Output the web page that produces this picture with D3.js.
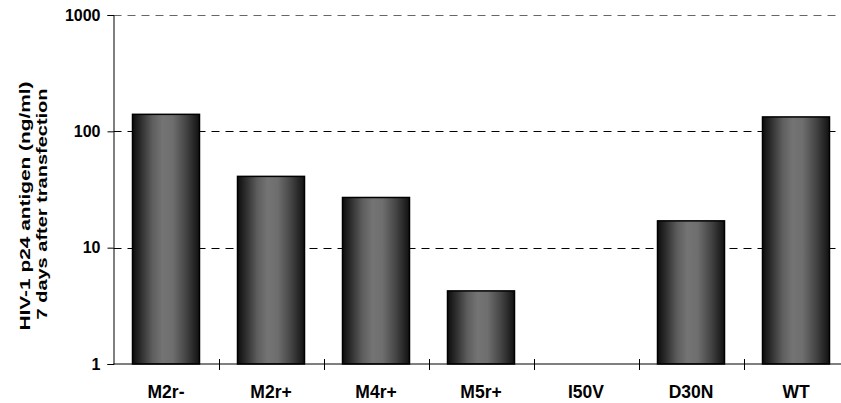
<!DOCTYPE html>
<html>
<head>
<meta charset="utf-8">
<script src="https://cdn.jsdelivr.net/npm/d3@7"></script>
<style>
  body { margin: 0; background: #fff; }
  svg { display: block; font-family: Arial, "Liberation Sans", sans-serif; }
</style>
</head>
<body>
<svg id="chart" width="841" height="403"></svg>
<script>
const categories = ['M2r-', 'M2r+', 'M4r+', 'M5r+', 'I50V', 'D30N', 'WT']
// p24 antigen in ng/ml, I50V had nothing measurable
const p24 = [140, 41, 27, 4.25, null, 17, 133]
const yTicks = [1, 10, 100, 1000]

const svg = d3.select('#chart')
const plotLeft = 113.5
const band = 105
const plotTop = 15
const plotBottom = 364

const x = d3.scaleBand()
  .domain(categories)
  .range([plotLeft, plotLeft + band * categories.length])
  .paddingInner(0)

const y = d3.scaleLog()
  .domain([1, 1000])
  .range([plotBottom, plotTop])

// cylinder look on the bars
const grad = svg.append('defs').append('linearGradient')
  .attr('id', 'cyl')
  .attr('x1', '0%').attr('x2', '100%')
  .attr('y1', '0%').attr('y2', '0%')
grad.selectAll('stop')
  .data([[0, '#0d0d0d'], [0.12, '#2c2c2c'], [0.3, '#5e5e5e'], [0.45, '#747474'],
         [0.6, '#6e6e6e'], [0.8, '#444'], [1, '#111']])
  .enter().append('stop')
  .attr('offset', d => d[0])
  .attr('stop-color', d => d[1])

// gridlines
svg.append('g')
  .selectAll('line')
  .data(yTicks.slice(1))
  .enter().append('line')
  .attr('x1', plotLeft)
  .attr('x2', 841)
  .attr('y1', d => Math.round(y(d)) + 0.5)
  .attr('y2', d => Math.round(y(d)) + 0.5)
  .attr('stroke', d => d === 1000 ? '#666' : '#000')
  .attr('stroke-dasharray', '8,6')

const bw = 67
svg.append('g')
  .selectAll('rect')
  .data(categories.map((c, i) => ({ c, v: p24[i] })).filter(d => d.v))
  .enter().append('rect')
  .attr('x', d => x(d.c) + (band - bw) / 2)
  .attr('width', bw)
  .attr('y', d => y(d.v))
  .attr('height', d => plotBottom - y(d.v))
  .attr('fill', 'url(#cyl)')
  .attr('stroke', '#000')
  .attr('stroke-width', 1.5)

// y axis
const yAxis = svg.append('g')
  .attr('transform', `translate(${plotLeft},0)`)
  .call(d3.axisLeft(y).tickValues(yTicks).tickFormat(d3.format('d')).tickSize(6).tickPadding(7))
yAxis.select('.domain').attr('stroke', '#000')
yAxis.selectAll('text')
  .attr('font-size', 16)
  .attr('font-weight', 'bold')
  .attr('font-family', 'Arial, "Liberation Sans", sans-serif')
  .attr('fill', '#000')

// x axis, ticks sit on category boundaries
const xAxis = svg.append('g')
  .attr('transform', `translate(0,${plotBottom})`)
xAxis.append('line')
  .attr('x1', plotLeft).attr('x2', 841)
  .attr('stroke', '#000')
xAxis.selectAll('.tk')
  .data(categories.slice(1))
  .enter().append('line')
  .attr('class', 'tk')
  .attr('x1', d => Math.round(x(d)) + 0.5)
  .attr('x2', d => Math.round(x(d)) + 0.5)
  .attr('y1', -5).attr('y2', 6)
  .attr('stroke', '#000')
xAxis.selectAll('text')
  .data(categories)
  .enter().append('text')
  .attr('x', d => x(d) + band / 2)
  .attr('y', 34)
  .attr('text-anchor', 'middle')
  .attr('font-size', 17.5)
  .attr('font-weight', 'bold')
  .text(d => d)

// axis title, squeezed across like the original
const sq = 0.72
const title = svg.append('text')
  .attr('transform', `translate(0,206) rotate(-90) scale(1,${sq})`)
  .attr('text-anchor', 'middle')
  .attr('font-size', 20.5)
  .attr('font-weight', 'bold')
title.append('tspan').attr('x', 0).attr('y', 30.5 / sq)
  .attr('textLength', 249).attr('lengthAdjust', 'spacingAndGlyphs')
  .text('HIV-1 p24 antigen (ng/ml)')
title.append('tspan').attr('x', 2).attr('y', 47 / sq)
  .attr('textLength', 231).attr('lengthAdjust', 'spacingAndGlyphs')
  .text('7 days after transfection')
</script>
</body>
</html>
